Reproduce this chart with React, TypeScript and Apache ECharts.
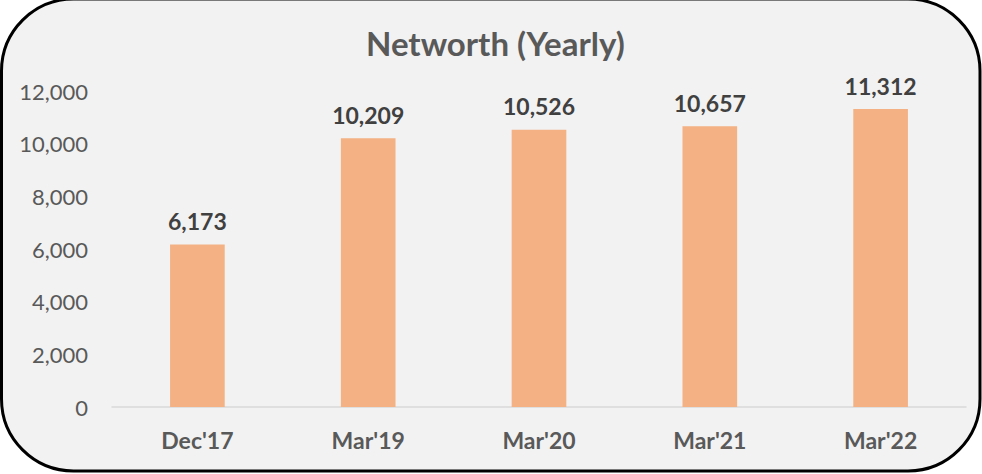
import React, { useEffect, useRef } from "react";
import * as echarts from "echarts";

const categories = ["Dec'17", "Mar'19", "Mar'20", "Mar'21", "Mar'22"];
const values = [6173, 10209, 10526, 10657, 11312];
const titleText = "Networth (Yearly)";

export default function App() {
  const ref = useRef<HTMLDivElement>(null);
  useEffect(() => {
    if (!ref.current) return;
    const chart = echarts.init(ref.current, null, { renderer: "svg" });
    const font = "Lato, 'Open Sans', sans-serif";
    chart.setOption({
      animation: false,
      backgroundColor: "#ffffff",
      title: {
        text: titleText,
        left: 361,
        top: 21,
        textStyle: { fontFamily: font, fontSize: 33, fontWeight: "bold", color: "#595959" },
      },
      graphic: [
        {
          type: "rect",
          z: -10,
          silent: true,
          shape: { x: 1.5, y: -1, width: 978.5, height: 472, r: 72 },
          style: { fill: "#f2f2f2", stroke: "#000000", lineWidth: 3 },
        },
      ],
      grid: { left: 112, right: 16, top: 91, bottom: 67, containLabel: false },
      xAxis: {
        type: "category",
        data: categories,
        axisLine: { lineStyle: { color: "#d9d9d9", width: 1.5 } },
        axisTick: { show: false },
        axisLabel: {
          margin: 21,
          fontFamily: font,
          fontSize: 23,
          fontWeight: "bold",
          color: "#595959",
        },
      },
      yAxis: {
        type: "value",
        min: 0,
        max: 12000,
        interval: 2000,
        splitLine: { show: false },
        axisLine: { show: false },
        axisTick: { show: false },
        axisLabel: {
          margin: 24,
          fontFamily: font,
          fontSize: 22,
          color: "#595959",
          formatter: (v: number) => v.toLocaleString("en-US"),
        },
      },
      series: [
        {
          type: "bar",
          data: values,
          barWidth: "32%",
          itemStyle: { color: "#f4b183" },
          label: {
            show: true,
            position: "top",
            distance: 12,
            fontFamily: font,
            fontSize: 23,
            fontWeight: "bold",
            color: "#404040",
            formatter: (p: any) => Number(p.value).toLocaleString("en-US"),
          },
        },
      ],
    });
    return () => chart.dispose();
  }, []);
  return (
    <div
      ref={ref}
      style={{ position: "fixed", left: 0, top: 0, width: 982, height: 474 }}
    />
  );
}
